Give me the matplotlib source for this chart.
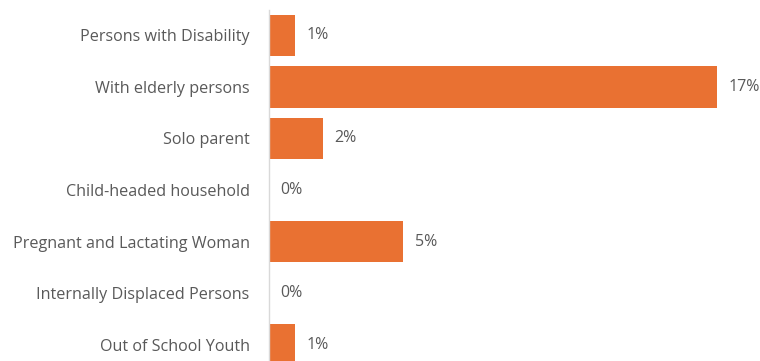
import matplotlib.pyplot as plt

categories = [
    "Persons with Disability",
    "With elderly persons",
    "Solo parent",
    "Child-headed household",
    "Pregnant and Lactating Woman",
    "Internally Displaced Persons",
    "Out of School Youth",
]
values = [1.0, 17.0, 2.05, 0.0, 5.1, 0.0, 1.0]
labels = ["1%", "17%", "2%", "0%", "5%", "0%", "1%"]

plt.rcParams['font.family'] = ['Open Sans', 'DejaVu Sans']

fig = plt.figure(figsize=(7.6, 3.61), dpi=100)
ax = fig.add_axes([269 / 760, 0, 448 / 760, 1])

ypos = list(range(len(categories)))
ax.barh(ypos, values, height=0.8, color='#E97132', edgecolor='none')

for y, v, lab in zip(ypos, values, labels):
    ax.annotate(lab, (v, y), xytext=(8, 0), textcoords='offset points',
                va='center', ha='left', fontsize=11.5, color='#595959')

ax.set_xlim(0, 17)
ax.set_ylim(6.32, -0.689)
ax.set_yticks(ypos)
ax.set_yticklabels(categories, fontsize=11.6, color='#595959')
ax.tick_params(axis='y', length=0, pad=14)
ax.set_xticks([])

for side in ['top', 'right', 'bottom']:
    ax.spines[side].set_visible(False)
ax.spines['left'].set_color('#D9D9D9')
ax.spines['left'].set_linewidth(1)
ax.spines['left'].set_bounds(-0.5, 6.5)
ax.patch.set_alpha(0)

fig.savefig('out.png', dpi=100)
